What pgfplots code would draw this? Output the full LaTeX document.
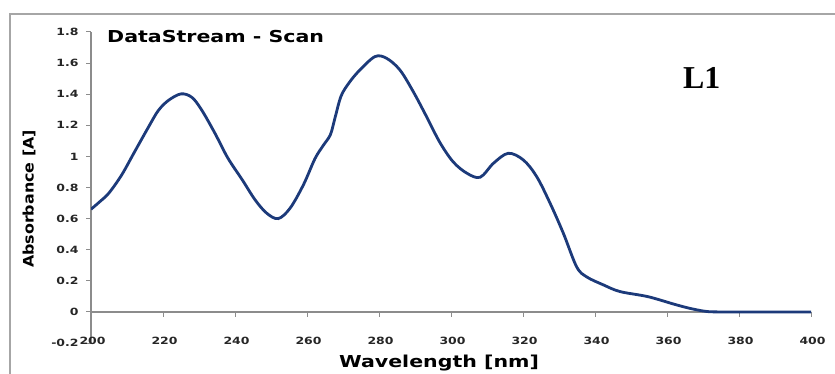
\documentclass[border=0pt]{standalone}
\usepackage{fontspec}
\usepackage{pgfplots}
\pgfplotsset{compat=1.18}
\setmainfont{DejaVu Sans}
\newfontfamily\vb[FakeStretch=1.25]{DejaVu Sans}
\newfontfamily\vy[FakeStretch=1.1]{DejaVu Sans}
\newfontfamily\lserif{Liberation Serif}
\definecolor{curve}{RGB}{28,58,122}
\definecolor{axgray}{RGB}{140,140,140}
\begin{document}
\begin{tikzpicture}[x=1bp,y=1bp]
\useasboundingbox (0,0) rectangle (835,373);
\fill[white] (0,0) rectangle (835,373);
\draw[line width=2bp, black!35] (10,-5) -- (10,359) -- (840,359);
\begin{axis}[
  at={(91bp,30bp)}, anchor=south west, scale only axis,
  width=720bp, height=311bp,
  xmin=200, xmax=400, ymin=-0.2, ymax=1.8,
  axis x line*=middle, axis y line*=left,
  hide obscured x ticks=false, hide obscured y ticks=false,
  axis line style={axgray, line width=1.3bp},
  xtick={200,220,...,400},
  ytick={-0.2,0,0.2,0.4,0.6,0.8,1,1.2,1.4,1.6,1.8},
  tick style={axgray, line width=1bp},
  major tick length=5bp,
  xtick align=outside, ytick align=outside,
  tick label style={font=\vb\bfseries\fontsize{10}{12}\selectfont, text=black!85},
  /pgf/number format/assume math mode=true,
  xticklabel style={yshift=-17bp, xshift=1.5bp},
  yticklabel style={xshift=-4bp},
]
\addplot[curve, line width=2.8bp, smooth, tension=0.55] coordinates {
(200,0.66) (202.5,0.71) (205,0.765) (208.5,0.88) (212,1.025) (216,1.19)
(218.7,1.295) (221.5,1.36) (225,1.402) (228,1.38) (230.7,1.30) (234.4,1.15)
(238,0.99) (242,0.85) (245.6,0.72) (248.8,0.635) (252,0.60) (255.3,0.667)
(259,0.817) (262.2,0.985) (264.5,1.07) (266.5,1.14) (267.8,1.25) (269.5,1.39)
(271.9,1.48) (274.7,1.556) (278.9,1.642) (282.1,1.631) (285.8,1.556) (289.5,1.417)
(293.2,1.256) (296.9,1.09) (300.6,0.965) (304.4,0.892) (308.1,0.866) (311.8,0.956)
(315.9,1.02) (320.1,0.977) (323.8,0.87) (327.5,0.70) (331.2,0.506) (334.9,0.29)
(337.7,0.225) (342.3,0.174) (346.9,0.131) (354.7,0.098) (362.2,0.048) (366.5,0.022)
(370.6,0.004) (374,0.0) (387,0.0) (400,0.0)
};
\end{axis}
\node[anchor=base west, inner sep=0pt, font=\vb\bfseries\fontsize{16.5}{18}\selectfont] at (107,330.3) {DataStream - Scan};
\node[anchor=base, inner sep=0pt, font=\vb\bfseries\fontsize{16.5}{18}\selectfont] at (439,6) {Wavelength [nm]};
\node[rotate=90, inner sep=0pt, font=\vy\bfseries\fontsize{14.5}{16}\selectfont] at (29,174) {Absorbance [A]};
\node[anchor=base west, inner sep=0pt, font=\lserif\bfseries\fontsize{32}{36}\selectfont] at (683,285) {L1};
\end{tikzpicture}
\end{document}
